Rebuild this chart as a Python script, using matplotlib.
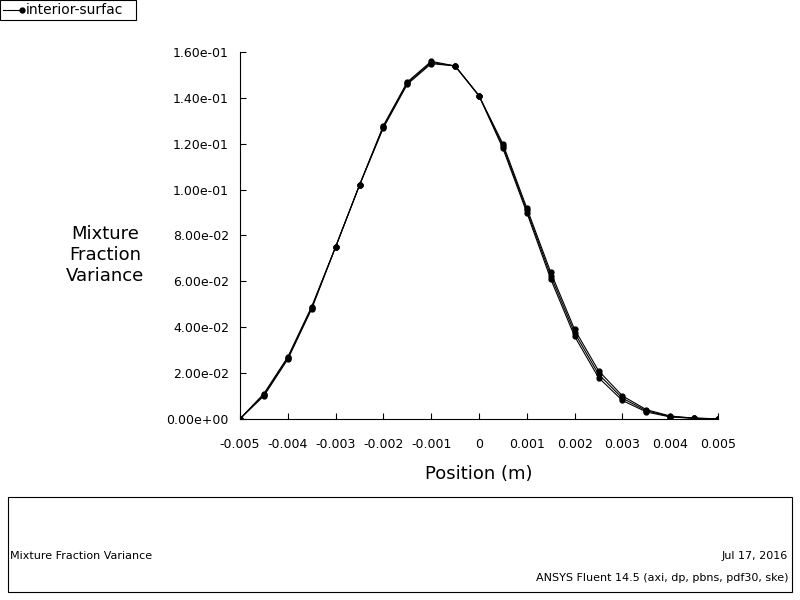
import numpy as np
import matplotlib
matplotlib.use("Agg")
import matplotlib.pyplot as plt

position = [-0.005, -0.0045, -0.004, -0.0035, -0.003, -0.0025, -0.002, -0.0015,
            -0.001, -0.0005, 0.0, 0.0005, 0.001, 0.0015, 0.002, 0.0025, 0.003,
            0.0035, 0.004, 0.0045, 0.005]
variance_a = [0.0, 0.011, 0.027, 0.049, 0.075, 0.102, 0.128, 0.147, 0.156, 0.154,
              0.141, 0.120, 0.092, 0.064, 0.039, 0.021, 0.010, 0.004, 0.0012, 0.0003, 0.0]
variance_b = [0.0, 0.010, 0.026, 0.048, 0.075, 0.102, 0.127, 0.146, 0.155, 0.154,
              0.141, 0.118, 0.090, 0.061, 0.036, 0.018, 0.008, 0.003, 0.0008, 0.0002, 0.0]
variance_c = [0.0, 0.0105, 0.0265, 0.0485, 0.075, 0.102, 0.1275, 0.1465, 0.1555, 0.154,
              0.141, 0.119, 0.091, 0.0625, 0.0375, 0.0195, 0.009, 0.0035, 0.001, 0.00025, 0.0]

yticks = np.arange(0, 0.161, 0.02)
xticks = [-0.005, -0.004, -0.003, -0.002, -0.001, 0, 0.001, 0.002, 0.003, 0.004, 0.005]
xlabels = ["-0.005", "-0.004", "-0.003", "-0.002", "-0.001", "0",
           "0.001", "0.002", "0.003", "0.004", "0.005"]

fig = plt.figure(figsize=(8, 6), dpi=100)
ax = fig.add_axes([0.3, 0.302, 0.5975, 0.611])
for v in (variance_a, variance_b, variance_c):
    ax.plot(position, v, color="black", lw=0.8, marker="o", ms=3.5)

ax.set_xlim(-0.005, 0.005)
ax.set_ylim(0, 0.16)
ax.set_yticks(yticks)
ax.set_yticklabels(["%.2e" % t for t in yticks], fontsize=9)
ax.set_xticks(xticks)
ax.set_xticklabels(xlabels, fontsize=9)
ax.tick_params(direction="in", length=4)
ax.tick_params(axis="x", pad=14)
ax.tick_params(axis="y", pad=8)
for s in ("top", "right"):
    ax.spines[s].set_visible(False)
ax.set_xlabel("Position (m)", fontsize=13, labelpad=10)
fig.text(0.131, 0.575, "Mixture\nFraction\nVariance", fontsize=13, ha="center", va="center")

# legend tag
fig.patches.append(plt.Rectangle((0.0, 0.967), 0.17, 0.033, transform=fig.transFigure,
                                 fill=False, ec="black", lw=0.8))
fig.add_artist(plt.Line2D([0.004, 0.028], [0.983, 0.983], color="black", lw=0.8,
                          marker="o", ms=3.5, markevery=[1], transform=fig.transFigure))
fig.text(0.032, 0.983, "interior-surfac", fontsize=10, va="center")

# bottom info box
fig.patches.append(plt.Rectangle((0.01, 0.013), 0.98, 0.158, transform=fig.transFigure,
                                 fill=False, ec="black", lw=0.8))
fig.text(0.012, 0.073, "Mixture Fraction Variance", fontsize=8, va="center")
fig.text(0.985, 0.073, "Jul 17, 2016", fontsize=8, va="center", ha="right")
fig.text(0.985, 0.037, "ANSYS Fluent 14.5 (axi, dp, pbns, pdf30, ske)", fontsize=8,
         va="center", ha="right")

fig.savefig("out.png", dpi=100)
